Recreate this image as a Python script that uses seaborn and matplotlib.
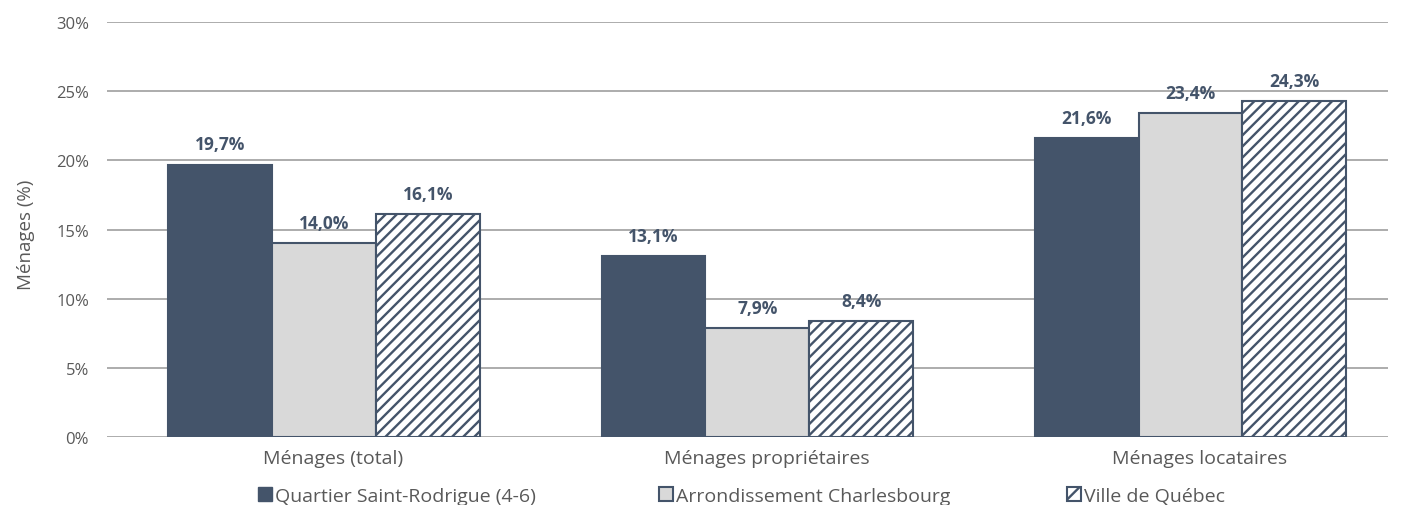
import matplotlib
matplotlib.use("Agg")
import matplotlib.pyplot as plt
import seaborn as sns
import pandas as pd
from matplotlib.patches import Patch
from matplotlib.transforms import ScaledTranslation

categories = ["Ménages (total)", "Ménages propriétaires", "Ménages locataires"]
series_names = ["Quartier Saint-Rodrigue (4-6)", "Arrondissement Charlesbourg", "Ville de Québec"]
quartier = [19.7, 13.1, 21.6]
arrondissement = [14.0, 7.9, 23.4]
ville = [16.1, 8.4, 24.3]
y_ticks = [0, 5, 10, 15, 20, 25, 30]

rows = []
for name, vals in zip(series_names, [quartier, arrondissement, ville]):
    for cat, v in zip(categories, vals):
        rows.append({"Catégorie": cat, "Série": name, "Valeur": v})
df = pd.DataFrame(rows)

sns.set_theme(style="white")
plt.rcParams["font.family"] = ["Open Sans", "DejaVu Sans"]
plt.rcParams["hatch.color"] = "#44546A"
plt.rcParams["hatch.linewidth"] = 1.7

dark = "#44546A"
light = "#D9D9D9"
grey_text = "#595959"
palette = {series_names[0]: dark, series_names[1]: light, series_names[2]: "white"}

fig = plt.figure(figsize=(14.17, 5.06), dpi=100)
ax = fig.add_axes([0.0755, 0.1344, 0.904, 0.820])

sns.barplot(data=df, x="Catégorie", y="Valeur", hue="Série", order=categories,
            hue_order=series_names, palette=palette, width=0.72, gap=0,
            saturation=1, ax=ax, legend=False, zorder=3)

for i, container in enumerate(ax.containers):
    for bar in container:
        bar.set_edgecolor(dark)
        bar.set_linewidth(1.5)
        if i == 2:
            bar.set_hatch("///")
    ax.bar_label(container, labels=[f"{v:.1f}%".replace(".", ",") for v in container.datavalues],
                 padding=8, fontsize=12.5, fontweight="bold", color=dark)

ax.set_ylim(0, 30)
ax.set_xlim(-0.502, 2.456)
ax.set_yticks(y_ticks)
ax.set_yticklabels([f"{t}%" for t in y_ticks])
ax.yaxis.grid(True, color="#A6A6A6", linewidth=1.3, zorder=0)
ax.set_axisbelow(True)
for s in ["top", "right", "left", "bottom"]:
    ax.spines[s].set_visible(False)
ax.tick_params(axis="y", length=0, labelsize=12, labelcolor=grey_text, pad=13)
ax.tick_params(axis="x", length=0, labelsize=14, labelcolor=grey_text, pad=9)
shift = ScaledTranslation(0.09, 0, fig.dpi_scale_trans)
for lbl in ax.get_xticklabels():
    lbl.set_transform(lbl.get_transform() + shift)
ax.set_xlabel("")
ax.set_ylabel("Ménages (%)", fontsize=13.5, color=grey_text)
ax.yaxis.set_label_coords(-0.0560, 0.49)

handles = [Patch(facecolor=dark, edgecolor=dark),
           Patch(facecolor=light, edgecolor=dark, linewidth=1.5),
           Patch(facecolor="white", edgecolor=dark, linewidth=1.5, hatch="//")]
legend_x = [258, 659, 1067]
for h, name, x in zip(handles, series_names, legend_x):
    leg = fig.legend([h], [name], loc="center left", bbox_to_anchor=(x / 1417, 1 - 497 / 506),
                     frameon=False, fontsize=14, handlelength=0.7, handleheight=0.7,
                     handletextpad=0.15, borderpad=0, borderaxespad=0, labelcolor=grey_text)

fig.savefig("out.png", dpi=100)
